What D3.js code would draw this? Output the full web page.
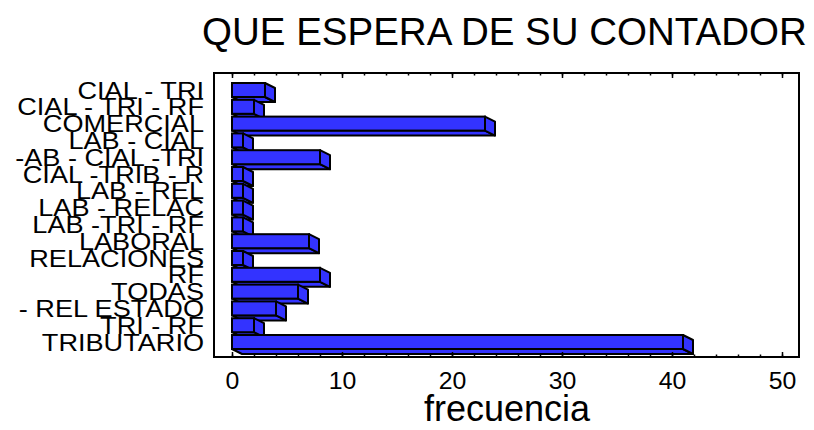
<!DOCTYPE html>
<html>
<head>
<meta charset="utf-8">
<script src="https://cdn.jsdelivr.net/npm/d3@7"></script>
<style>
  html, body { margin: 0; padding: 0; background: #fff; }
  svg { display: block; font-family: "Liberation Sans", Arial, sans-serif; }
</style>
</head>
<body>
<svg id="chart" width="814" height="430"></svg>
<script>
// Answers to "what do you expect from your accountant", one bar per category
const categories = [
  "CIAL - TRI", "CIAL - TRI - RF", "COMERCIAL", "LAB - CIAL", "-AB - CIAL -TRI",
  "CIAL -TRIB - R", "LAB - REL", "LAB - RELAC", "LAB -TRI - RF", "LABORAL",
  "RELACIONES", "RF", "TODAS", "- REL ESTADO", "TRI - RF", "TRIBUTARIO"
];
const frecuencia = [3, 2, 23, 1, 8, 1, 1, 1, 1, 7, 1, 8, 6, 4, 2, 41];
const xTickValues = [0, 10, 20, 30, 40, 50];
const minorTickValues = d3.range(0, 51, 2);

const titleText = "QUE ESPERA DE SU CONTADOR";
const xTitleText = "frecuencia";

const svg = d3.select("#chart");
const frame = { left: 214, right: 799, top: 73, bottom: 357 };

const x = d3.scaleLinear().domain([0, 50]).range([232, 782]);
const y = d3.scaleBand().domain(categories).range([83, 349]).paddingInner(0.167);

// extrusion offset of the pseudo-3D bars
const depth = { dx: 10, dy: 5 };
const barFill = "#3333ff";

// title
svg.append("text")
  .attr("x", 202).attr("y", 45)
  .attr("font-size", 38.5)
  .attr("fill", "#000")
  .text(titleText);

// plot frame
svg.append("rect")
  .attr("x", frame.left).attr("y", frame.top)
  .attr("width", frame.right - frame.left)
  .attr("height", frame.bottom - frame.top)
  .attr("fill", "none").attr("stroke", "#000").attr("stroke-width", 2);

// bars: bottom face, side face, then front face
const rows = categories.map((c, i) => ({ cat: c, v: frecuencia[i] }));
const bars = svg.append("g").selectAll("g").data(rows).join("g");
const poly = pts => pts.map(p => p.join(",")).join(" ");

bars.append("polygon")
  .attr("points", d => {
    const x0 = x(0), x1 = x(d.v), b = y(d.cat) + y.bandwidth();
    return poly([[x0, b], [x1, b], [x1 + depth.dx, b + depth.dy], [x0 + depth.dx, b + depth.dy]]);
  })
  .attr("fill", barFill).attr("stroke", "#000").attr("stroke-width", 2).attr("stroke-linejoin", "round");

bars.append("polygon")
  .attr("points", d => {
    const x1 = x(d.v), t = y(d.cat), b = t + y.bandwidth();
    return poly([[x1, t], [x1 + depth.dx, t + depth.dy], [x1 + depth.dx, b + depth.dy], [x1, b]]);
  })
  .attr("fill", barFill).attr("stroke", "#000").attr("stroke-width", 2).attr("stroke-linejoin", "round");

bars.append("rect")
  .attr("x", x(0))
  .attr("y", d => y(d.cat))
  .attr("width", d => x(d.v) - x(0))
  .attr("height", y.bandwidth())
  .attr("fill", barFill).attr("stroke", "#000").attr("stroke-width", 2);

// category labels
svg.append("g").selectAll("text").data(rows).join("text")
  .attr("transform", d => `translate(204,${y(d.cat) + y.bandwidth() / 2}) scale(1.13,1)`)
  .attr("text-anchor", "end")
  .attr("dy", "0.36em")
  .attr("font-size", 24)
  .attr("fill", "#000")
  .text(d => d.cat);

// inward ticks on bottom and top edges
function styleAxis(g) {
  g.select(".domain").remove();
  g.selectAll(".tick line").attr("stroke", "#000").attr("stroke-width", 1.5);
}
svg.append("g").attr("transform", `translate(0,${frame.bottom})`)
  .call(d3.axisBottom(x).tickValues(minorTickValues).tickSize(-2.5).tickFormat(""))
  .call(styleAxis);
svg.append("g").attr("transform", `translate(0,${frame.top})`)
  .call(d3.axisTop(x).tickValues(minorTickValues).tickSize(-2.5).tickFormat(""))
  .call(styleAxis);
svg.append("g").attr("transform", `translate(0,${frame.top})`)
  .call(d3.axisTop(x).tickValues(xTickValues).tickSize(-5).tickFormat(""))
  .call(styleAxis);

const xAxis = svg.append("g").attr("transform", `translate(0,${frame.bottom})`)
  .call(d3.axisBottom(x).tickValues(xTickValues).tickSize(-5).tickPadding(16).tickFormat(d3.format("d")))
  .call(styleAxis);
xAxis.selectAll(".tick text")
  .attr("font-family", "Liberation Sans, Arial, sans-serif")
  .attr("font-size", 23)
  .attr("fill", "#000")
  .attr("transform", "scale(1.08,1)");

// x-axis title
svg.append("text")
  .attr("x", (x(0) + x(50)) / 2).attr("y", 421)
  .attr("text-anchor", "middle")
  .attr("font-size", 36)
  .attr("fill", "#000")
  .text(xTitleText);
</script>
</body>
</html>
